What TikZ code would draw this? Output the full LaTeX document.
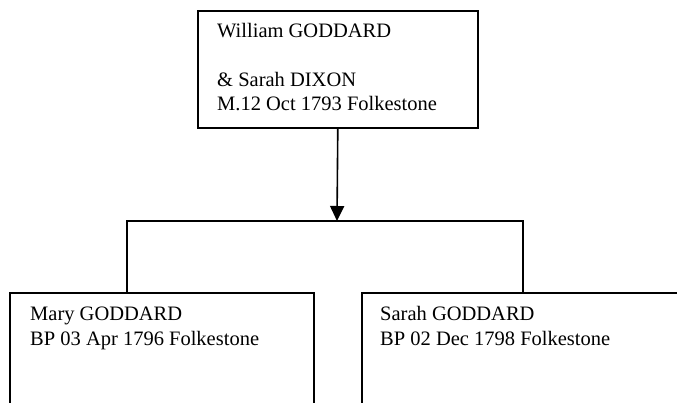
\documentclass[tikz,border=0pt]{standalone}
\usepackage{fontspec}
\setmainfont{Liberation Serif}
\usetikzlibrary{arrows.meta}
\begin{document}
\begin{tikzpicture}[x=1pt,y=-1pt,
  famline/.style={line width=1.6pt, draw=black},
  personbox/.style={famline, rectangle, inner sep=0pt, anchor=north west},
  persontext/.style={anchor=base west, inner sep=0pt, align=left,
    font=\fontsize{20.5}{24.5}\selectfont},
  arr/.style={famline, -{Triangle[width=14pt,length=15pt]}}]
\useasboundingbox (0,0) rectangle (677,403);
% boxes
\node[personbox, minimum width=280pt, minimum height=117pt] (top) at (197,10) {};
\node[personbox, minimum width=304pt, minimum height=130pt] (lbox) at (9,292) {};
\node[personbox, minimum width=340pt, minimum height=130pt] (rbox) at (361,292) {};
% texts (anchored at the baseline of the last line)
\node[persontext] (toptext) at (217,111) {William GODDARD\\[24.5pt]\& Sarah DIXON\\M.12 Oct 1793 Folkestone};
\node[persontext] (ltext) at (30,345) {Mary GODDARD\\BP 03 Apr 1796 Folkestone};
\node[persontext] (rtext) at (380,345) {Sarah GODDARD\\BP 02 Dec 1798 Folkestone};
% connectors
\coordinate (bar) at (337,221);
\coordinate (barL) at (127,221);
\coordinate (barR) at (523,221);
\draw[arr] (top.south) -- (bar);
\draw[famline] (barL |- lbox.north) -- (barL) -- (barR) -- (barR |- rbox.north);
\end{tikzpicture}
\end{document}
